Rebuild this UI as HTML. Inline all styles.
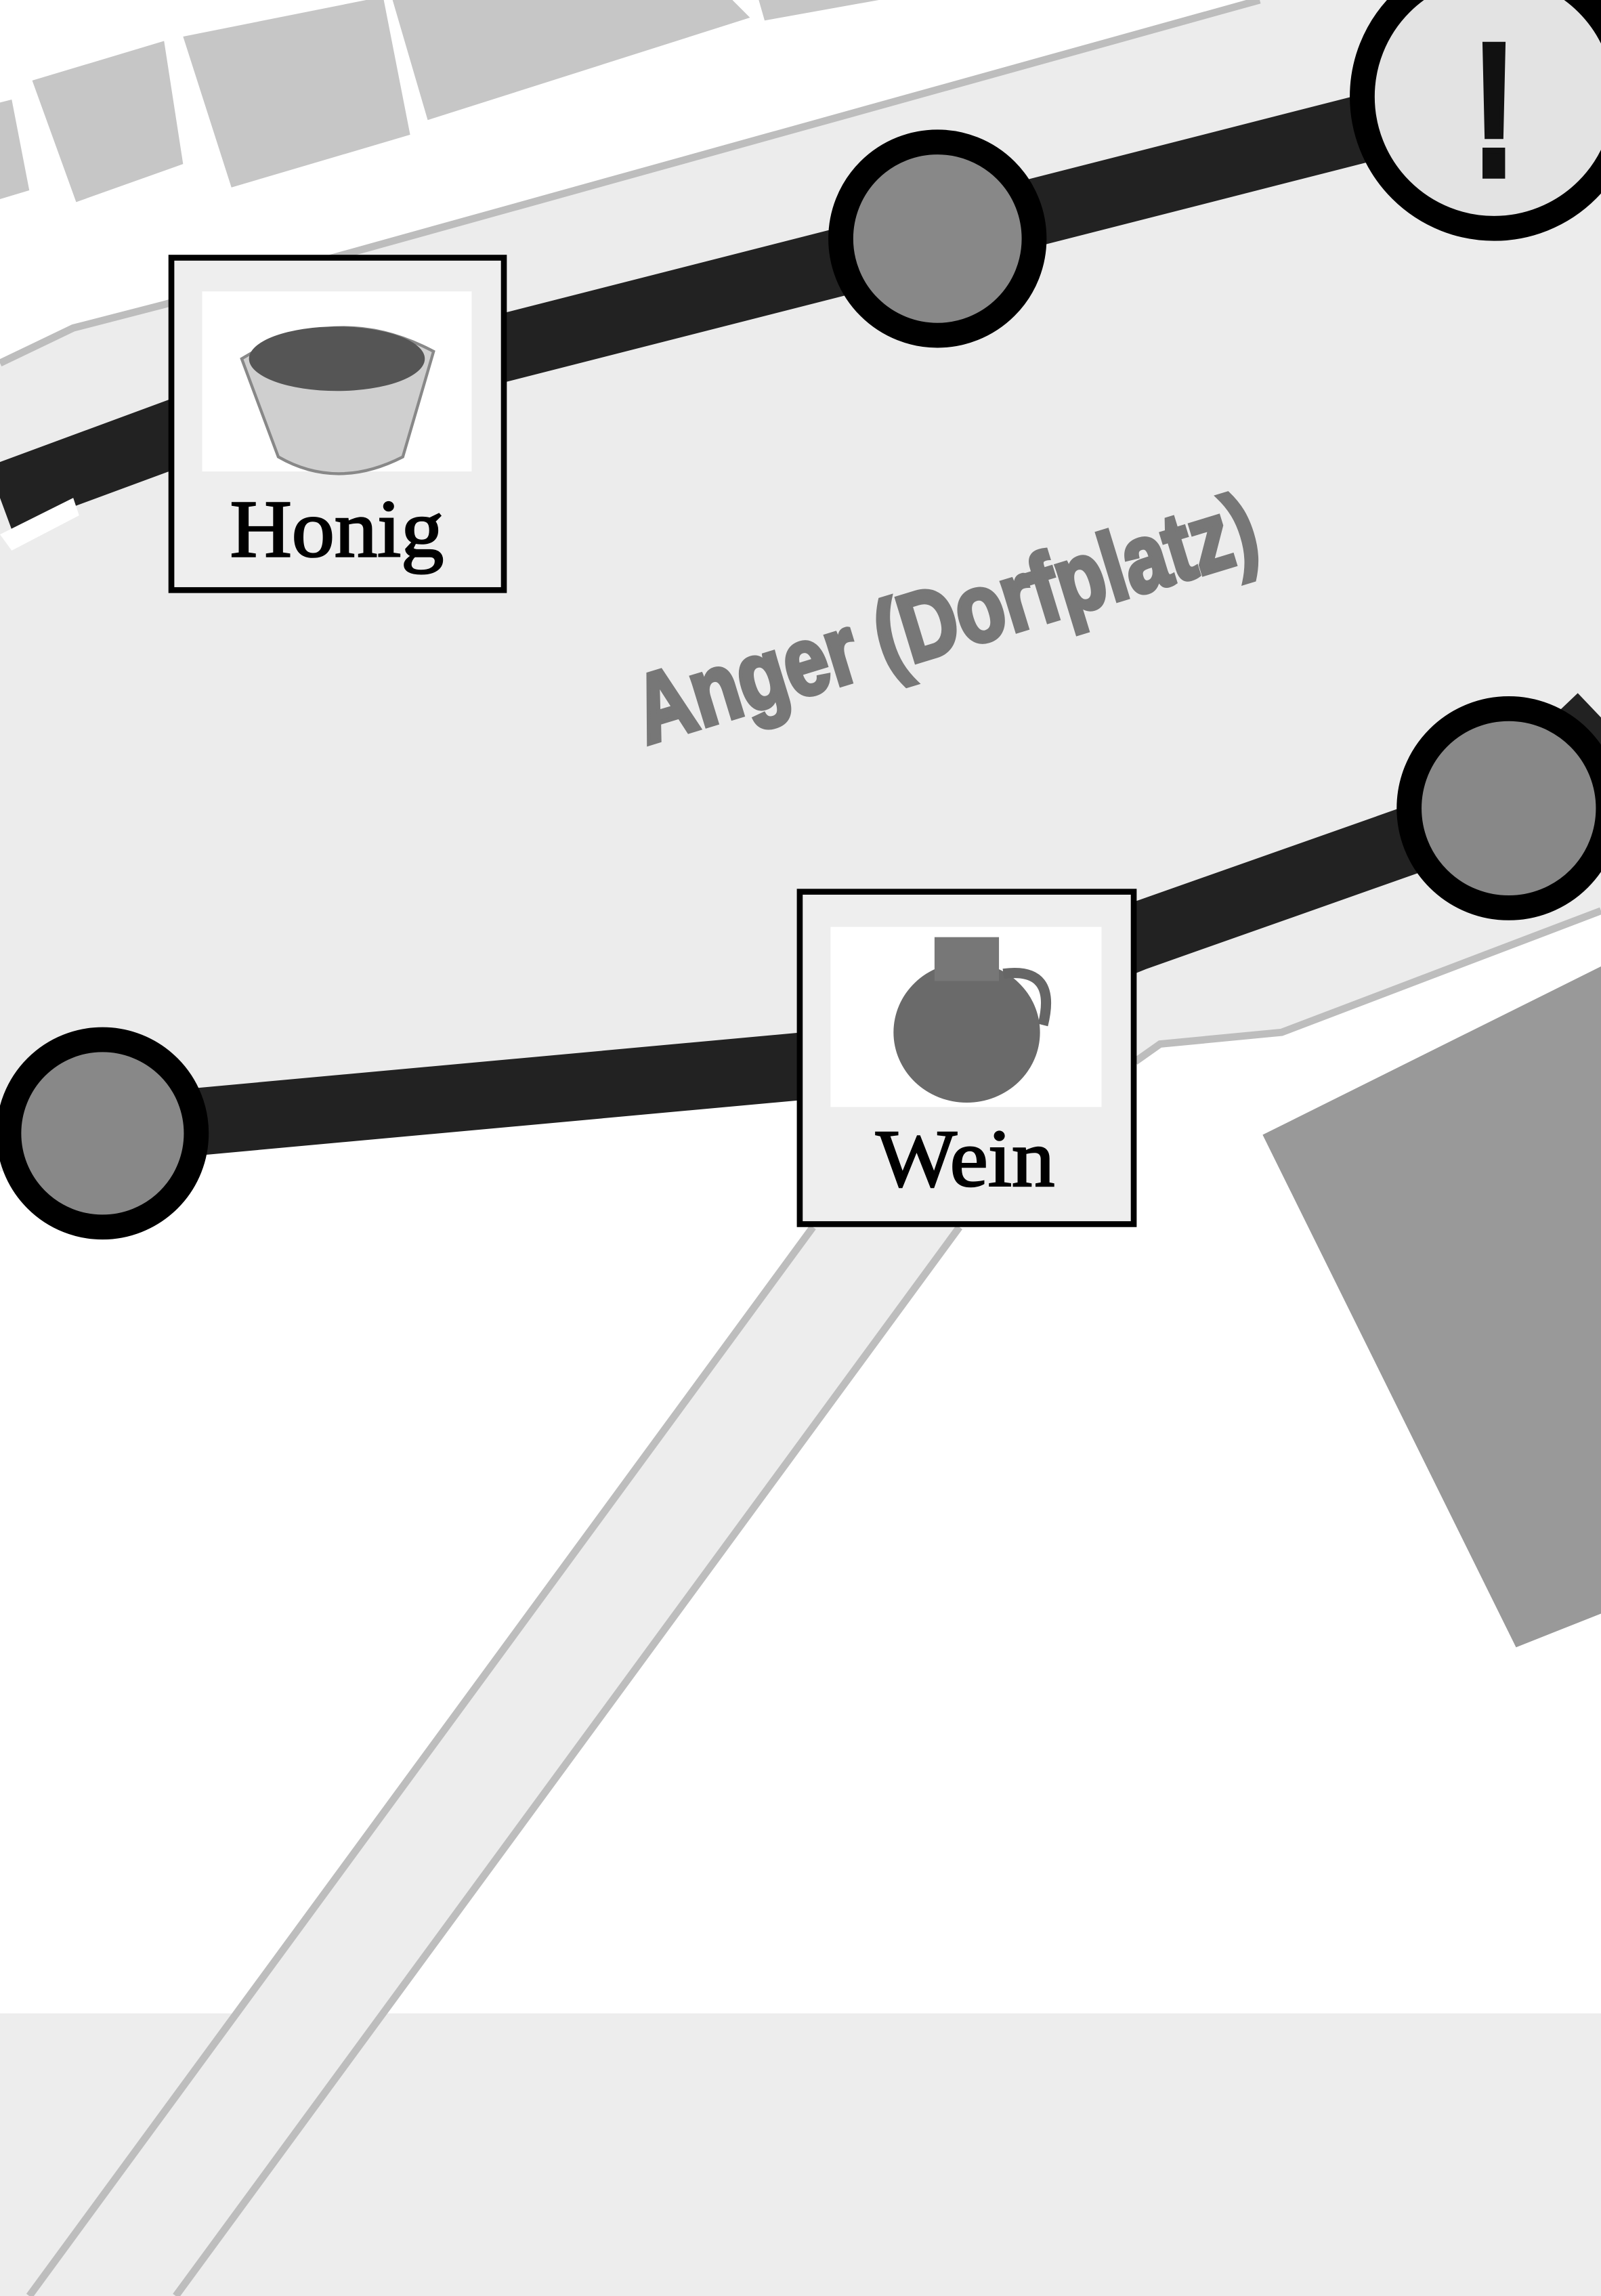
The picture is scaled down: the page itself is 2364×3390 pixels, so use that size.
<!DOCTYPE html>
<html><head><meta charset="utf-8"><style>
html,body{margin:0;padding:0;background:#fff}
svg{display:block}
</style></head><body>
<svg width="2364" height="3390" viewBox="0 0 1093 1568" preserveAspectRatio="none" xmlns="http://www.w3.org/2000/svg">
<rect width="1093" height="1568" fill="#fff"/>
<rect x="0" y="1375" width="1093" height="193" fill="#ededed"/>
<polygon points="555,838 655,838 120,1568 20,1568" fill="#ededed"/>
<line x1="555" y1="838" x2="20" y2="1568" stroke="#bdbdbd" stroke-width="5"/>
<line x1="655" y1="838" x2="120" y2="1568" stroke="#bdbdbd" stroke-width="5"/>
<polygon points="0,248 50,224 112,208 860,0 1093,0 1093,622 875,705 792,713 775,725 560,745 100,790 0,800" fill="#ececec"/>
<polyline points="0,248 50,224 112,208 860,0" fill="none" stroke="#bdbdbd" stroke-width="5"/>
<polyline points="775,725 792,713 875,705 1093,622" fill="none" stroke="#bdbdbd" stroke-width="5"/>
<g fill="#c6c6c6">
<polygon points="0,70 8,68 20,130 0,136"/>
<polygon points="22,55 112,28 125,112 52,138"/>
<polygon points="125,25 250,0 262,0 280,92 158,128"/>
<polygon points="268,0 500,0 512,12 292,82"/>
<polygon points="518,0 600,0 522,14"/>
</g>
<polygon points="862,775 1093,660 1093,1102 1035,1125" fill="#999"/>
<polyline points="0,340 130,292 640,162 1020,65" fill="none" stroke="#222" stroke-width="46"/>
<polyline points="70,772 560,727 775,640 1030,550 1093,490" fill="none" stroke="#222" stroke-width="46"/>
<polygon points="0,365 50,340 54,352 8,376" fill="#fff"/>
<circle cx="640" cy="163" r="66" fill="#888" stroke="#000" stroke-width="17"/>
<circle cx="1020" cy="66" r="90" fill="#e3e3e3" stroke="#000" stroke-width="17"/>
<text x="1020" y="120" font-family="Liberation Sans, sans-serif" font-weight="bold" font-size="130" text-anchor="middle" fill="#111" stroke="#111" stroke-width="4" textLength="30" lengthAdjust="spacingAndGlyphs">!</text>
<circle cx="70" cy="774" r="64" fill="#888" stroke="#000" stroke-width="17"/>
<circle cx="1030" cy="552" r="68" fill="#888" stroke="#000" stroke-width="17"/>
<text x="652" y="444" transform="rotate(-17 652 444)" font-family="Liberation Sans, sans-serif" font-weight="700" font-size="66" text-anchor="middle" fill="#777" stroke="#777" stroke-width="3" textLength="440" lengthAdjust="spacingAndGlyphs">Anger (Dorfplatz)</text>
<rect x="117" y="176" width="227" height="227" fill="#eee" stroke="#000" stroke-width="4"/>
<rect x="138" y="199" width="184" height="123" fill="#fff"/>
<path d="M165,245 Q230,205 296,240 L275,312 Q230,335 190,312 Z" fill="#cfcfcf" stroke="#888" stroke-width="2"/>
<ellipse cx="230" cy="245" rx="60" ry="22" fill="#555"/>
<text x="230" y="380" font-family="Liberation Serif, serif" font-size="56" text-anchor="middle" fill="#000" stroke="#000" stroke-width="1.2" textLength="146" lengthAdjust="spacingAndGlyphs">Honig</text>
<rect x="546" y="609" width="228" height="227" fill="#eee" stroke="#000" stroke-width="4"/>
<rect x="567" y="633" width="185" height="123" fill="#fff"/>
<ellipse cx="660" cy="705" rx="50" ry="48" fill="#6a6a6a"/>
<rect x="638" y="640" width="44" height="30" fill="#777"/>
<path d="M685,665 Q722,660 712,700" fill="none" stroke="#666" stroke-width="7"/>
<text x="659" y="810" font-family="Liberation Serif, serif" font-size="56" text-anchor="middle" fill="#000" stroke="#000" stroke-width="1.2" textLength="122" lengthAdjust="spacingAndGlyphs">Wein</text>
</svg>
</body></html>
